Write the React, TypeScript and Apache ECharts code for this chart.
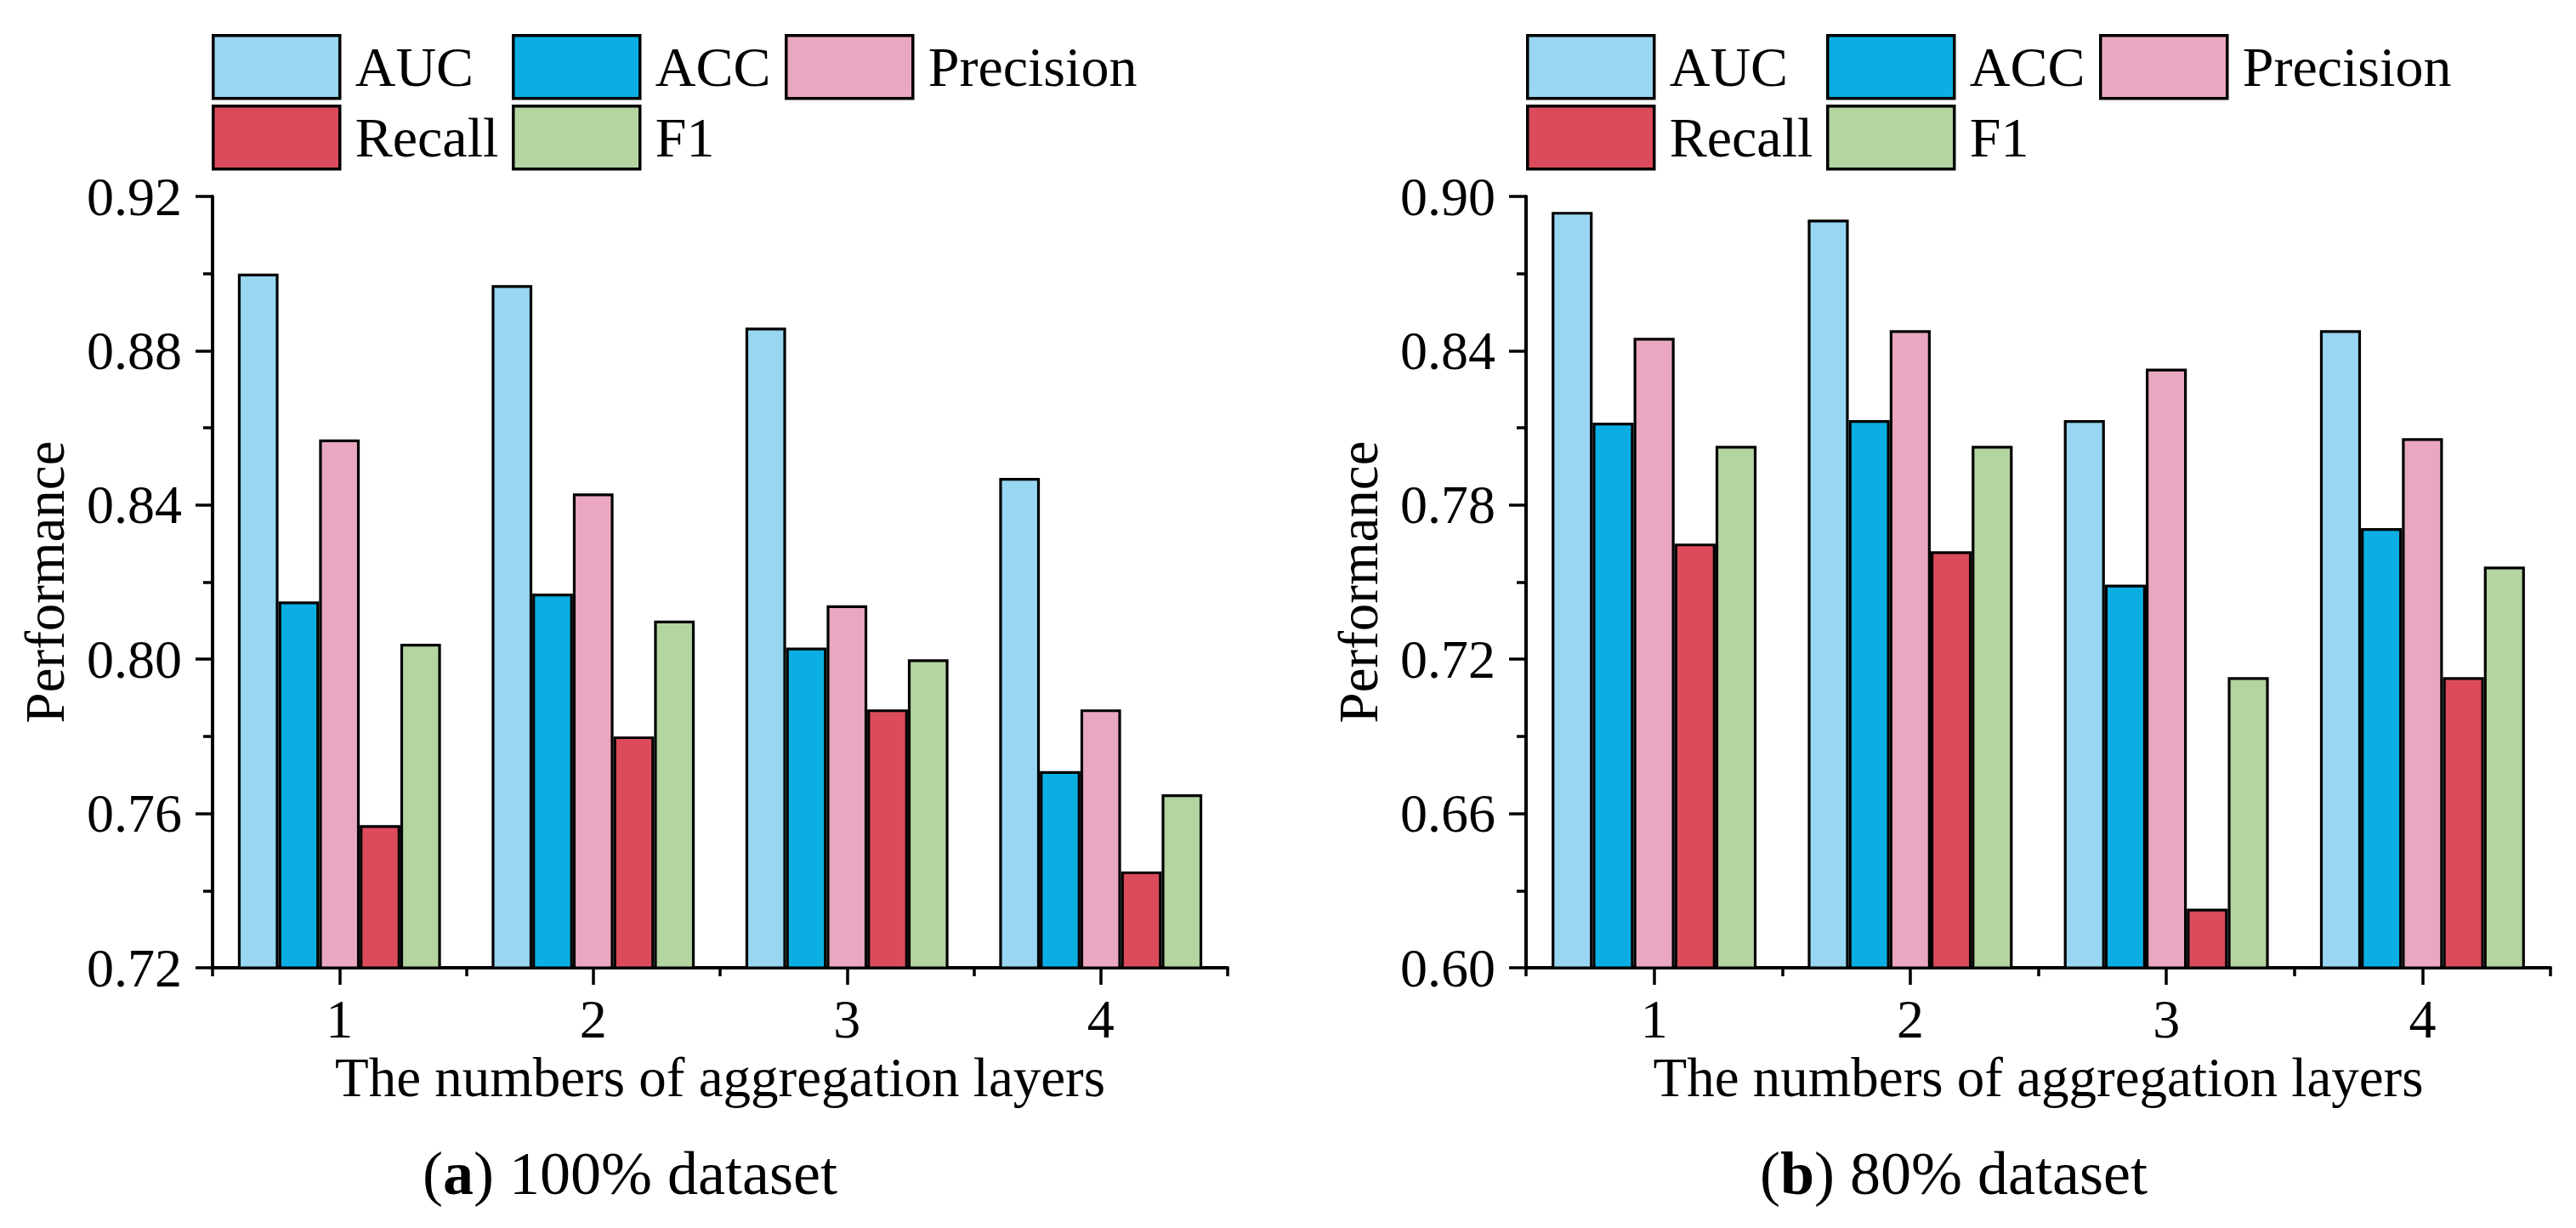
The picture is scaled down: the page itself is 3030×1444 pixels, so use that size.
import React, { useEffect, useRef } from "react";
import * as echarts from "echarts";

const categories = ["1", "2", "3", "4"];
const seriesNames = ["AUC", "ACC", "Precision", "Recall", "F1"];
const seriesColors = ["#98D6F2", "#0AAEE2", "#EAA7C2", "#DB4B5B", "#B4D4A0"];

// (a) 100% dataset
const aAUC = [0.9, 0.897, 0.886, 0.847];
const aACC = [0.815, 0.817, 0.803, 0.771];
const aPrecision = [0.857, 0.843, 0.814, 0.787];
const aRecall = [0.757, 0.78, 0.787, 0.745];
const aF1 = [0.804, 0.81, 0.8, 0.765];

// (b) 80% dataset
const bAUC = [0.894, 0.891, 0.813, 0.848];
const bACC = [0.812, 0.813, 0.749, 0.771];
const bPrecision = [0.845, 0.848, 0.833, 0.806];
const bRecall = [0.765, 0.762, 0.623, 0.713];
const bF1 = [0.803, 0.803, 0.713, 0.756];

const xAxisTitle = "The numbers of aggregation layers";
const yAxisTitle = "Performance";
const captionA = "{n|(}{b|a}{n|) 100% dataset}";
const captionB = "{n|(}{b|b}{n|) 80% dataset}";

const FONT = "Liberation Serif";

export default function App() {
  const ref = useRef<HTMLDivElement>(null);
  useEffect(() => {
    if (!ref.current) return;
    const chart = echarts.init(ref.current, undefined, { renderer: "svg" });
    const aData = [aAUC, aACC, aPrecision, aRecall, aF1];
    const bData = [bAUC, bACC, bPrecision, bRecall, bF1];

    const grids = [
      { left: 250, top: 231, width: 1194, height: 907 },
      { left: 1795, top: 231, width: 1205, height: 907 },
    ];

    const mainX = (gi: number) => ({
      type: "category",
      gridIndex: gi,
      data: categories,
      position: "bottom",
      axisLine: { show: true, lineStyle: { color: "#000", width: 4 } },
      axisTick: { show: true, alignWithLabel: true, interval: 0, length: 20, lineStyle: { color: "#000", width: 3.5 } },
      axisLabel: { show: true, margin: 28, fontSize: 64, fontFamily: FONT, color: "#000" },
      name: xAxisTitle,
      nameLocation: "middle",
      nameGap: 88,
      nameTextStyle: { fontSize: 65, fontFamily: FONT, color: "#000" },
      splitLine: { show: false },
    });
    const boundX = (gi: number) => ({
      type: "category",
      gridIndex: gi,
      data: categories,
      position: "bottom",
      axisLine: { show: false },
      axisTick: { show: true, alignWithLabel: false, interval: 0, length: 10, lineStyle: { color: "#000", width: 3.5 } },
      axisLabel: { show: false },
      splitLine: { show: false },
    });
    const yAx = (gi: number, min: number, max: number, interval: number) => ({
      type: "value",
      gridIndex: gi,
      min,
      max,
      interval,
      axisLine: { show: true, lineStyle: { color: "#000", width: 4 } },
      axisTick: { show: true, length: 20, lineStyle: { color: "#000", width: 3.5 } },
      minorTick: { show: true, splitNumber: 2, length: 11, lineStyle: { color: "#000", width: 3.5 } },
      axisLabel: {
        margin: 36,
        fontSize: 64,
        fontFamily: FONT,
        color: "#000",
        formatter: (v: number) => v.toFixed(2),
      },
      splitLine: { show: false },
      name: yAxisTitle,
      nameLocation: "middle",
      nameGap: 165,
      nameTextStyle: { fontSize: 65, fontFamily: FONT, color: "#000" },
    });

    const series: any[] = [];
    seriesNames.forEach((n, i) => {
      series.push({
        type: "bar",
        name: n,
        xAxisIndex: 0,
        yAxisIndex: 0,
        data: aData[i],
        barGap: "0%",
        barCategoryGap: "20%",
        itemStyle: { color: seriesColors[i], borderColor: "#000", borderWidth: 3.2 },
      });
    });
    seriesNames.forEach((n, i) => {
      series.push({
        type: "bar",
        name: n,
        xAxisIndex: 2,
        yAxisIndex: 1,
        data: bData[i],
        barGap: "0%",
        barCategoryGap: "20%",
        itemStyle: { color: seriesColors[i], borderColor: "#000", borderWidth: 3.2 },
      });
    });

    const legendPos = [
      [0, 40],
      [353, 40],
      [674, 40],
      [0, 123],
      [353, 123],
    ];
    const legends: any[] = [];
    [249, 1795].forEach((baseX) => {
      seriesNames.forEach((n, i) => {
        legends.push({
          data: [n],
          left: baseX + legendPos[i][0],
          top: legendPos[i][1],
          padding: 0,
          itemWidth: 149,
          itemHeight: 74,
          selectedMode: false,
          icon: "rect",
          itemStyle: { borderColor: "#000", borderWidth: 3.5 },
          textStyle: { fontSize: 66, fontFamily: FONT, color: "#000", padding: [0, 0, 0, 13] },
        });
      });
    });

    const captionStyle = (text: string, x: number) => ({
      type: "text",
      x,
      y: 1380,
      style: {
        text,
        align: "center",
        verticalAlign: "middle",
        fill: "#000",
        rich: {
          n: { fontSize: 72, fontFamily: FONT, fill: "#000" },
          b: { fontSize: 72, fontFamily: FONT, fontWeight: "bold", fill: "#000" },
        },
      },
    });

    chart.setOption({
      animation: false,
      backgroundColor: "#fff",
      textStyle: { fontFamily: FONT },
      grid: grids,
      xAxis: [mainX(0), boundX(0), mainX(1), boundX(1)],
      yAxis: [yAx(0, 0.72, 0.92, 0.04), yAx(1, 0.6, 0.9, 0.06)],
      legend: legends,
      series,
      graphic: [captionStyle(captionA, 741), captionStyle(captionB, 2298)],
    });
    return () => chart.dispose();
  }, []);
  return (
    <div
      ref={ref}
      style={{ position: "absolute", left: 0, top: 0, width: 3030, height: 1444, background: "#fff" }}
    />
  );
}
